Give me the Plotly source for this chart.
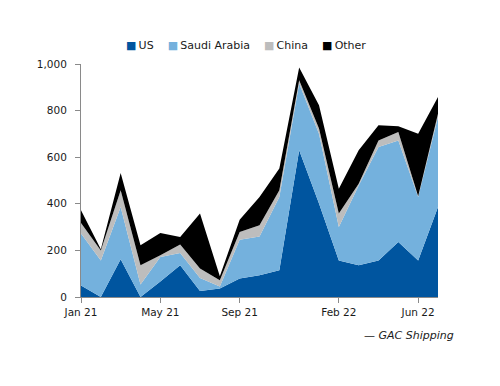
import plotly.graph_objects as go

months = ["Jan 21", "Feb 21", "Mar 21", "Apr 21", "May 21", "Jun 21", "Jul 21", "Aug 21",
          "Sep 21", "Oct 21", "Nov 21", "Dec 21", "Jan 22", "Feb 22", "Mar 22", "Apr 22",
          "May 22", "Jun 22", "Jul 22"]
us = [49, 0, 162, 0, 67, 136, 26, 36, 79, 93, 115, 630, 401, 157, 136, 157, 236, 157, 386]
saudi = [223, 157, 224, 54, 105, 53, 56, 9, 167, 167, 314, 286, 300, 143, 343, 487, 436, 272, 386]
china = [46, 43, 72, 82, 7, 36, 40, 27, 33, 48, 29, 14, 22, 58, 7, 28, 36, 3, 15]
other = [54, 5, 74, 86, 96, 33, 236, 17, 53, 121, 93, 55, 100, 107, 144, 65, 25, 269, 71]
tick_labels = ["Jan 21", "May 21", "Sep 21", "Feb 22", "Jun 22"]
y_ticks = [0, 200, 400, 600, 800, 1000]

series = [("US", us, "#00559F"), ("Saudi Arabia", saudi, "#74B1DD"),
          ("China", china, "#BDBDBD"), ("Other", other, "#000000")]

font_family = "DejaVu Sans, Verdana, sans-serif"
text_col = "#1a1a1a"

fig = go.Figure()
for name, vals, col in series:
    fig.add_trace(go.Scatter(x=months, y=vals, name=name, mode="lines",
                             stackgroup="one", line=dict(width=0, color=col),
                             fillcolor=col, showlegend=False, hoverinfo="skip"))

# compact legend as text (small squares, tight spacing)
legend_parts = []
for name, _, col in series:
    legend_parts.append(f'<span style="color:{col};font-size:11px">■</span>\u2009{name}')
legend_text = "\u00a0\u00a0\u00a0\u00a0".join(legend_parts)

fig.update_layout(
    width=500, height=386,
    margin=dict(l=81, r=62, t=64, b=89),
    paper_bgcolor="white", plot_bgcolor="white",
    font=dict(family=font_family, size=10.5, color=text_col),
    showlegend=False,
    xaxis=dict(type="category", range=[0, 18], tickmode="array", tickvals=tick_labels,
               ticktext=tick_labels, showgrid=False, showline=True, linecolor="#8a8a8a",
               ticks="outside", ticklen=5, tickcolor="#8a8a8a", zeroline=False),
    yaxis=dict(range=[0, 1000], tickvals=y_ticks, tickformat=",d", showgrid=False,
               showline=True, linecolor="#8a8a8a", ticks="outside", ticklen=5,
               tickcolor="#8a8a8a", zeroline=False, ticklabelstandoff=6),
    annotations=[
        dict(text=legend_text, xref="paper", yref="paper", x=0.4635, y=1.08,
             xanchor="center", yanchor="middle", showarrow=False,
             font=dict(size=11, color=text_col)),
        dict(text="<i>— GAC Shipping</i>", xref="paper", yref="paper",
             x=1.051, y=-0.164, xanchor="right", yanchor="middle",
             showarrow=False, font=dict(size=11, color=text_col)),
    ],
)

fig.write_html("out.html", config={"displayModeBar": False})

with open("out.html", "r", encoding="utf-8") as f:
    html = f.read()
html = html.replace("<body>", '<body style="margin:0;padding:0">', 1)
with open("out.html", "w", encoding="utf-8") as f:
    f.write(html)
